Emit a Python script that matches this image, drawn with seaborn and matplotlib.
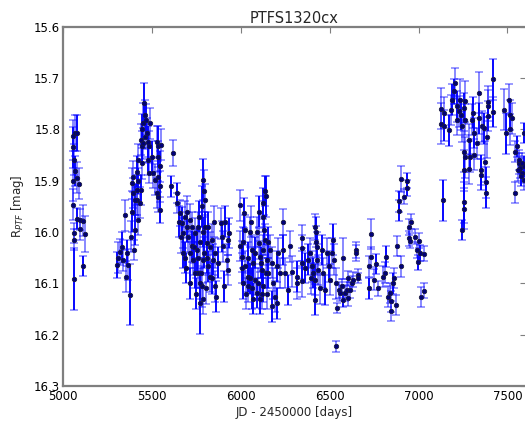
import numpy as np
import pandas as pd
import matplotlib
matplotlib.use("Agg")
import matplotlib.pyplot as plt
import seaborn as sns

title = "PTFS1320cx"
xlabel = "JD - 2450000 [days]"
ylabel = "R$_{PTF}$ [mag]"
xticks = [5000, 5500, 6000, 6500, 7000, 7500]
yticks = [15.6, 15.7, 15.8, 15.9, 16.0, 16.1, 16.2, 16.3]

# JD - 2450000
jd = [
    5058, 5068, 5081, 5055, 5064, 5066, 5081, 5058, 5090, 5055, 5081, 5096, 5111, 5062, 5096, 5124, 5062, 5111, 5060,
    5302, 5310, 5321, 5330, 5338, 5349, 5353, 5359, 5368, 5377, 5383, 5390, 5396, 5401, 5405, 5415, 5420, 5424, 5434, 5439,
    5458, 5452, 5446, 5461, 5466, 5471, 5439, 5443, 5452, 5461, 5480, 5490, 5486, 5477, 5446, 5499, 5508, 5486, 5420, 5415,
    5396, 5386, 5415, 5405, 5528, 5537, 5552, 5537, 5546, 5537, 5546, 5537, 5546, 5528, 5518, 5621, 5608,
    5640, 5640, 5659, 5668, 5677, 5687, 5696, 5705, 5715, 5724, 5734, 5743, 5752, 5761, 5771, 5780, 5789, 5789, 5799, 5799,
    5809, 5818, 5828, 5837, 5846, 5856, 5861, 5856, 5887, 5893, 5902, 5912, 5906, 5921, 5930, 5936, 5930,
    5687, 5715, 5743, 5760, 5771, 5782, 5794, 5771, 5811, 5790,
    5650, 5662, 5675, 5690, 5700, 5712, 5725, 5738, 5748, 5758, 5765, 5776, 5785, 5795, 5804, 5815, 5825, 5840, 5850, 5870,
    5997, 6019, 6025, 5993, 6006, 6025, 6043, 6043, 6062, 6071, 6081, 6090, 6100, 6109, 6118, 6127, 6127, 6132, 6137, 6127,
    6124, 6146, 6156, 6165, 6174, 6184, 6193, 6202, 6212, 6222, 6202, 6236, 6240, 6250, 6268, 6278, 6287, 6315, 6315,
    6013, 6053, 6064, 6092, 6109, 6142, 6149, 6176,
    6005, 6015, 6030, 6040, 6050, 6060, 6070, 6080, 6095, 6105, 6115, 6120, 6135, 6140, 6152,
    6347, 6347, 6347, 6347, 6381, 6391, 6400, 6409, 6419, 6423, 6423, 6428, 6419, 6415, 6437, 6456, 6465, 6475, 6484, 6494,
    6503, 6512, 6521, 6527, 6535, 6540, 6537, 6550, 6559, 6568, 6577, 6577, 6588, 6597, 6606, 6606, 6616, 6625, 6634, 6649,
    6649, 6662, 6662, 6360, 6395, 6430, 6445,
    6724, 6734, 6734, 6724, 6747, 6762, 6772, 6803, 6809, 6817, 6826, 6837, 6845, 6845, 6856, 6860, 6875, 6878, 6892, 6893,
    6903, 6916, 6935, 6935, 6901, 6948, 6957, 6944, 6954, 6982, 6991, 7000, 6997, 7010, 7032, 7015, 7032,
    7138, 7126, 7126, 7141, 7169, 7145, 7184, 7188, 7201, 7207, 7216, 7216, 7225, 7235, 7241, 7245, 7254, 7263, 7263, 7254,
    7258, 7259, 7254, 7258, 7245, 7282, 7288, 7286, 7301, 7307, 7310, 7310, 7329, 7338, 7342, 7357, 7353, 7353, 7366, 7376,
    7380, 7380, 7386, 7389, 7389, 7392, 7419, 7419, 7483, 7492, 7507, 7512, 7526, 7512, 7544, 7544, 7554, 7563, 7573, 7582,
    7591, 7591, 7591, 7567, 7578, 7584, 7557,
]

# R_PTF magnitude
mag = [
    15.812, 15.807, 15.807, 15.835, 15.859, 15.881, 15.894, 15.900, 15.906, 15.947, 15.974, 15.976, 15.978, 16.002, 15.995, 16.004, 16.015, 16.066, 16.091,
    16.064, 16.050, 16.039, 16.030, 16.055, 15.967, 16.087, 16.041, 16.064, 16.122, 16.009, 15.960, 15.924, 16.035, 15.996, 15.937, 15.900, 15.976, 15.943, 15.918,
    15.749, 15.788, 15.800, 15.772, 15.781, 15.807, 15.820, 15.833, 15.827, 15.814, 15.824, 15.788, 15.833, 15.859, 15.866, 15.853, 15.885, 15.885, 15.859, 15.882,
    15.892, 15.905, 15.918, 15.937, 15.824, 15.833, 15.830, 15.853, 15.872, 15.892, 15.911, 15.931, 15.957, 15.924, 15.898, 15.846, 15.911,
    15.924, 15.943, 15.963, 15.982, 16.002, 15.970, 15.990, 16.009, 15.976, 16.028, 16.054, 16.002, 16.035, 16.080, 16.139, 16.106, 16.054, 15.898, 15.937, 15.990,
    16.022, 16.067, 16.087, 16.015, 16.054, 16.041, 16.126, 16.106, 15.983, 16.009, 16.028, 15.980, 16.106, 16.054, 16.015, 16.002, 16.074,
    16.050, 16.040, 16.080, 15.990, 16.020, 15.950, 15.920, 16.100, 16.050, 16.130,
    15.980, 16.010, 16.040, 16.070, 15.960, 16.100, 15.990, 16.030, 16.120, 16.050, 15.970, 16.080, 16.000, 16.040, 16.110, 15.990, 16.030, 16.090, 15.980, 16.060,
    15.948, 15.963, 15.996, 16.027, 16.048, 16.067, 16.087, 16.106, 16.035, 16.061, 16.093, 16.119, 16.022, 16.048, 16.074, 15.944, 15.970, 15.996, 16.015, 16.035,
    16.106, 16.054, 16.080, 16.035, 16.145, 16.100, 16.126, 16.067, 16.041, 16.080, 16.139, 15.980, 16.035, 16.080, 16.113, 16.028, 16.077, 16.087, 16.100,
    16.100, 16.000, 16.110, 16.000, 16.130, 15.930, 16.120, 16.060,
    16.070, 16.020, 16.120, 16.050, 16.090, 15.980, 16.130, 16.040, 16.100, 15.960, 16.060, 16.120, 15.920, 16.080, 16.020,
    16.012, 16.031, 16.061, 16.096, 16.054, 16.041, 16.067, 16.080, 15.990, 16.000, 16.019, 16.054, 16.093, 16.132, 16.074, 16.035, 16.080, 16.113, 16.041, 16.067,
    16.093, 16.041, 16.015, 16.054, 16.100, 16.148, 16.223, 16.113, 16.119, 16.106, 16.051, 16.132, 16.119, 16.113, 16.090, 16.129, 16.113, 16.100, 16.093, 16.035,
    16.041, 16.083, 16.090, 16.070, 16.090, 16.030, 16.110,
    16.067, 16.004, 16.049, 16.110, 16.093, 16.062, 16.110, 16.087, 16.079, 16.048, 16.126, 16.119, 16.135, 16.154, 16.100, 16.090, 16.142, 16.027, 15.940, 15.958,
    15.897, 15.931, 15.900, 15.914, 16.067, 15.990, 15.980, 16.012, 16.017, 16.009, 16.035, 16.017, 16.059, 16.041, 16.042, 16.127, 16.114,
    15.938, 15.760, 15.789, 15.793, 15.802, 15.767, 15.762, 15.742, 15.726, 15.710, 15.755, 15.781, 15.765, 15.742, 15.772, 15.794, 15.758, 15.745, 15.781, 15.843,
    15.880, 15.854, 15.942, 15.955, 15.996, 15.820, 15.853, 15.877, 15.781, 15.767, 15.807, 15.849, 15.827, 15.778, 15.728, 15.794, 15.879, 15.888, 15.798, 15.863,
    15.903, 15.923, 15.815, 15.754, 15.774, 15.746, 15.702, 15.766, 15.762, 15.807, 15.742, 15.772, 15.778, 15.800, 15.843, 15.923, 15.833, 15.866, 15.875, 15.885,
    15.872, 15.898, 15.807, 15.860, 15.890, 15.865, 15.880,
]

# photometric uncertainty [mag]
err = [
    0.030, 0.035, 0.035, 0.040, 0.030, 0.030, 0.030, 0.040, 0.030, 0.030, 0.020, 0.020, 0.030, 0.020, 0.020, 0.035, 0.020, 0.020, 0.060,
    0.025, 0.030, 0.025, 0.030, 0.020, 0.030, 0.030, 0.025, 0.030, 0.060, 0.030, 0.040, 0.030, 0.020, 0.030, 0.030, 0.025, 0.030, 0.030, 0.030,
    0.040, 0.040, 0.030, 0.030, 0.030, 0.030, 0.030, 0.030, 0.030, 0.025, 0.030, 0.030, 0.030, 0.030, 0.030, 0.030, 0.030, 0.020, 0.030, 0.030,
    0.030, 0.030, 0.030, 0.030, 0.030, 0.040, 0.030, 0.030, 0.030, 0.030, 0.030, 0.030, 0.025, 0.030, 0.030, 0.025, 0.020,
    0.020, 0.020, 0.025, 0.030, 0.030, 0.030, 0.030, 0.030, 0.030, 0.030, 0.030, 0.030, 0.040, 0.030, 0.060, 0.040, 0.030, 0.040, 0.030, 0.030,
    0.030, 0.030, 0.030, 0.030, 0.030, 0.030, 0.030, 0.030, 0.030, 0.030, 0.030, 0.030, 0.030, 0.030, 0.030, 0.030, 0.030,
    0.030, 0.030, 0.030, 0.030, 0.030, 0.040, 0.040, 0.030, 0.030, 0.030,
    0.030, 0.030, 0.030, 0.030, 0.030, 0.030, 0.030, 0.030, 0.030, 0.030, 0.030, 0.030, 0.030, 0.030, 0.030, 0.030, 0.030, 0.030, 0.030, 0.030,
    0.030, 0.030, 0.030, 0.030, 0.030, 0.030, 0.030, 0.030, 0.030, 0.030, 0.030, 0.030, 0.030, 0.030, 0.030, 0.030, 0.030, 0.030, 0.030, 0.030,
    0.030, 0.030, 0.030, 0.030, 0.030, 0.030, 0.030, 0.030, 0.030, 0.030, 0.030, 0.025, 0.030, 0.030, 0.030, 0.030, 0.030, 0.030, 0.030,
    0.030, 0.030, 0.040, 0.030, 0.030, 0.040, 0.030, 0.030,
    0.030, 0.030, 0.030, 0.030, 0.030, 0.030, 0.030, 0.030, 0.030, 0.030, 0.030, 0.030, 0.030, 0.030, 0.030,
    0.025, 0.025, 0.030, 0.030, 0.030, 0.030, 0.030, 0.030, 0.025, 0.030, 0.030, 0.030, 0.030, 0.030, 0.030, 0.030, 0.030, 0.030, 0.030, 0.030,
    0.030, 0.030, 0.030, 0.030, 0.030, 0.010, 0.010, 0.015, 0.015, 0.015, 0.040, 0.015, 0.015, 0.015, 0.015, 0.015, 0.015, 0.015, 0.015, 0.015,
    0.015, 0.010, 0.010, 0.030, 0.030, 0.030, 0.030,
    0.020, 0.030, 0.020, 0.020, 0.020, 0.020, 0.015, 0.020, 0.020, 0.020, 0.020, 0.020, 0.020, 0.020, 0.020, 0.020, 0.020, 0.020, 0.020, 0.020,
    0.025, 0.015, 0.015, 0.015, 0.020, 0.015, 0.015, 0.015, 0.015, 0.015, 0.015, 0.015, 0.015, 0.015, 0.015, 0.020, 0.015,
    0.040, 0.040, 0.040, 0.030, 0.030, 0.030, 0.030, 0.030, 0.025, 0.030, 0.030, 0.030, 0.030, 0.040, 0.030, 0.030, 0.030, 0.040, 0.030, 0.040,
    0.040, 0.040, 0.040, 0.040, 0.020, 0.030, 0.030, 0.030, 0.030, 0.030, 0.030, 0.030, 0.030, 0.030, 0.040, 0.030, 0.030, 0.030, 0.030, 0.040,
    0.030, 0.030, 0.040, 0.030, 0.030, 0.030, 0.040, 0.030, 0.040, 0.040, 0.030, 0.030, 0.030, 0.030, 0.020, 0.020, 0.020, 0.020, 0.020, 0.020,
    0.020, 0.020, 0.020, 0.020, 0.020, 0.020, 0.020,
]

# 1 = error bar drawn at full opacity
solid = [
    0, 0, 1, 1, 0, 1, 0, 0, 0, 0, 1, 0, 0, 0, 0, 0, 0, 1, 1,
    1, 0, 0, 1, 0, 0, 0, 1, 0, 1, 0, 1, 0, 0, 1, 0, 1, 0, 0, 1,
    1, 0, 1, 0, 1, 0, 0, 1, 0, 0, 1, 0, 0, 1, 0, 1, 0, 0, 0, 1,
    0, 0, 0, 1, 0, 1, 0, 0, 1, 0, 1, 0, 1, 0, 0, 0, 1,
    1, 0, 0, 1, 0, 0, 1, 0, 0, 1, 0, 0, 1, 0, 1, 0, 0, 1, 0, 1,
    0, 1, 0, 0, 1, 0, 1, 0, 0, 1, 0, 1, 1, 0, 0, 1, 0,
    1, 0, 1, 0, 0, 1, 0, 0, 1, 0,
    1, 0, 1, 1, 0, 1, 0, 1, 1, 0, 1, 0, 1, 1, 0, 1, 0, 1, 0, 1,
    0, 1, 0, 0, 1, 0, 1, 0, 0, 1, 0, 1, 0, 0, 1, 1, 0, 1, 0, 0,
    1, 0, 1, 0, 1, 0, 0, 1, 0, 0, 1, 0, 1, 0, 1, 0, 0, 1, 0,
    1, 0, 1, 0, 1, 1, 0, 0,
    1, 1, 0, 1, 1, 0, 1, 1, 0, 1, 1, 0, 1, 0, 1,
    0, 0, 1, 0, 1, 0, 0, 1, 0, 1, 0, 0, 1, 1, 0, 1, 0, 1, 0, 1,
    0, 0, 1, 0, 0, 0, 0, 0, 0, 0, 0, 1, 0, 0, 0, 0, 0, 0, 0, 0,
    0, 0, 0, 1, 0, 1, 0,
    0, 0, 0, 1, 0, 1, 0, 0, 0, 1, 0, 0, 0, 0, 1, 0, 0, 0, 1, 1,
    0, 0, 1, 1, 0, 0, 0, 0, 0, 0, 0, 0, 1, 1, 0, 0, 0,
    1, 0, 0, 1, 1, 0, 0, 1, 1, 0, 1, 0, 0, 0, 1, 0, 1, 0, 0, 0,
    1, 0, 1, 1, 1, 0, 1, 0, 0, 1, 1, 0, 0, 1, 0, 0, 1, 1, 1, 0,
    1, 1, 0, 0, 1, 0, 1, 1, 0, 1, 0, 1, 0, 0, 0, 0, 1, 0, 1, 0,
    1, 0, 1, 0, 1, 0, 0,
]

df = pd.DataFrame({"jd": jd, "mag": mag, "err": err, "solid": solid})

sns.set_style("white")
plt.rcParams.update({
    "font.family": ["DejaVu Sans"],
    "axes.edgecolor": "#7f7f7f",
    "axes.linewidth": 1.6,
    "xtick.direction": "in",
    "ytick.direction": "in",
    "xtick.top": True,
    "ytick.right": True,
    "xtick.major.size": 4,
    "ytick.major.size": 4,
    "xtick.color": "#7f7f7f",
    "ytick.color": "#7f7f7f",
    "xtick.labelcolor": "black",
    "ytick.labelcolor": "black",
})

fig = plt.figure(figsize=(5.25, 4.26), dpi=100)
ax = fig.add_axes([0.12, 0.094, 0.882, 0.843])

# all error bars, semi-transparent, with caps
ax.errorbar(df["jd"], df["mag"], yerr=df["err"], fmt="none", ecolor="#0000ff",
            elinewidth=1.3, capsize=3, capthick=1.1, alpha=0.5, zorder=1)
# stronger error bars for part of the points
sd = df[df["solid"] == 1]
ax.errorbar(sd["jd"], sd["mag"], yerr=sd["err"], fmt="none", ecolor="#0000ff",
            elinewidth=1.3, capsize=0, alpha=1.0, zorder=2)

sns.scatterplot(data=df, x="jd", y="mag", ax=ax, s=10, color="#00007a",
                edgecolor="#1a1a40", linewidth=0.6, zorder=3, legend=False)

ax.set_xlim(5000, 7605)
ax.set_ylim(16.3, 15.6)
ax.set_xticks(xticks)
ax.set_yticks(yticks)
ax.set_xticklabels([str(t) for t in xticks], fontsize=8.5)
ax.set_yticklabels([f"{t:.1f}" for t in yticks], fontsize=8.5)
ax.set_xlabel(xlabel, fontsize=8.5, labelpad=2)
ax.set_ylabel(ylabel, fontsize=8.5, labelpad=6)
ax.set_title(title, fontsize=10.5, pad=3)
ax.tick_params(axis="x", pad=3)
ax.tick_params(axis="y", pad=2)

fig.savefig("out.png", dpi=100)
